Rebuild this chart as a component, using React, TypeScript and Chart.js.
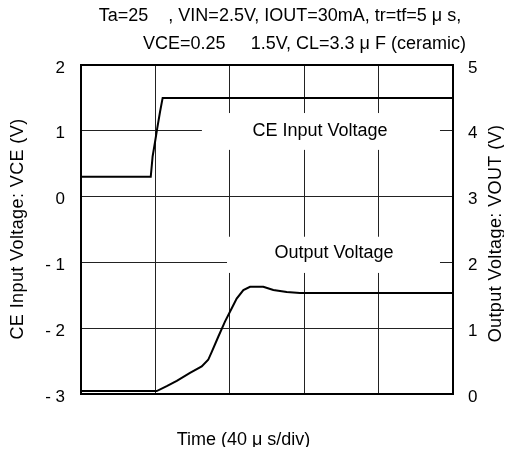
import React, { useEffect, useRef } from "react";
import { Chart, registerables } from "chart.js";

Chart.register(...registerables);

// Time in microseconds (40 µs per division, 5 divisions)
const ceTime = [0, 37.5, 38.5, 39.8, 41.0, 42.5, 43.9, 200];
const ceVolt = [0.3, 0.3, 0.61, 0.83, 1.04, 1.29, 1.5, 1.5];

const outTime = [0, 40.7, 46.1, 51.5, 58.6, 64.9, 68.4, 70.3, 73.8, 77.4, 80.1, 83.7, 87.3, 90.9, 98.0, 103.4, 110.6, 117.7, 200];
const outVolt = [0.045, 0.045, 0.12, 0.2, 0.32, 0.42, 0.52, 0.64, 0.87, 1.1, 1.25, 1.45, 1.58, 1.63, 1.63, 1.58, 1.55, 1.535, 1.535];

const titleLines = [
  "Ta=25    , VIN=2.5V, IOUT=30mA, tr=tf=5 \u03bc s,",
  "VCE=0.25     1.5V, CL=3.3 \u03bc F (ceramic)",
];
const leftTitle = "CE Input Voltage: VCE (V)";
const rightTitle = "Output Voltage: VOUT (V)";
const xTitle = "Time (40 \u03bc s/div)";
const ceLabel = "CE Input Voltage";
const outLabel = "Output Voltage";

const FONT = "'Liberation Sans', Arial, sans-serif";

const decorPlugin = {
  id: "decor",
  beforeDatasetsDraw(chart: any) {
    const { ctx, scales } = chart;
    const x = scales.x, y = scales.y;
    ctx.save();
    ctx.fillStyle = "#fff";
    const boxes = [
      [65, 193, 1.27, 0.71],
      [78.5, 193, -0.61, -1.16],
    ];
    for (const [x0, x1, y0, y1] of boxes) {
      const px0 = x.getPixelForValue(x0), px1 = x.getPixelForValue(x1);
      const py0 = y.getPixelForValue(y0), py1 = y.getPixelForValue(y1);
      ctx.fillRect(px0, py0, px1 - px0, py1 - py0);
    }
    ctx.fillStyle = "#000";
    ctx.font = `18px ${FONT}`;
    ctx.textAlign = "center";
    ctx.textBaseline = "middle";
    ctx.fillText(ceLabel, x.getPixelForValue(128.5), y.getPixelForValue(1.0));
    ctx.fillText(outLabel, x.getPixelForValue(136), y.getPixelForValue(-0.86));
    ctx.restore();
  },
  afterDatasetsDraw(chart: any) {
    const { ctx, chartArea } = chart;
    ctx.save();
    ctx.strokeStyle = "#000";
    ctx.lineWidth = 2;
    ctx.strokeRect(chartArea.left, chartArea.top, chartArea.right - chartArea.left, chartArea.bottom - chartArea.top);
    ctx.restore();
  },
  afterDraw(chart: any) {
    const { ctx } = chart;
    ctx.save();
    ctx.fillStyle = "#000";
    ctx.font = `18px ${FONT}`;
    ctx.textAlign = "center";
    ctx.textBaseline = "alphabetic";
    ctx.fillText(titleLines[0], 272, 13);
    ctx.fillText(titleLines[1], 296.5, 41);
    ctx.fillText(xTitle, 235.5, 437);
    ctx.textBaseline = "middle";
    try { (ctx as any).letterSpacing = "0.4px"; } catch (e) {}
    ctx.save();
    ctx.translate(10.5, 221);
    ctx.rotate(-Math.PI / 2);
    ctx.fillText(leftTitle, 0, 0);
    ctx.restore();
    ctx.save();
    ctx.translate(488.5, 225.5);
    ctx.rotate(-Math.PI / 2);
    ctx.fillText(rightTitle, 0, 0);
    ctx.restore();
    try { (ctx as any).letterSpacing = "0px"; } catch (e) {}
    ctx.restore();
  },
};

export default function App() {
  const ref = useRef<HTMLCanvasElement | null>(null);
  useEffect(() => {
    if (!ref.current) return;
    const chart = new Chart(ref.current, {
      type: "line",
      data: {
        datasets: [
          {
            data: ceTime.map((t, i) => ({ x: t, y: ceVolt[i] })),
            yAxisID: "y",
            borderColor: "#000",
            borderWidth: 2,
            pointRadius: 0,
            tension: 0,
          },
          {
            data: outTime.map((t, i) => ({ x: t, y: outVolt[i] })),
            yAxisID: "y2",
            borderColor: "#000",
            borderWidth: 2,
            pointRadius: 0,
            tension: 0,
          },
        ],
      },
      options: {
        animation: false,
        responsive: true,
        maintainAspectRatio: false,
        layout: { padding: { top: 57, left: 0, right: 0, bottom: 0 } },
        plugins: { legend: { display: false }, tooltip: { enabled: false }, title: { display: false } },
        scales: {
          x: {
            type: "linear",
            min: 0,
            max: 200,
            ticks: { display: false, stepSize: 40 },
            grid: { color: "#222", lineWidth: 1, drawTicks: false },
            border: { display: false },
            afterFit: (s: any) => { s.height = 61; },
          },
          y: {
            position: "left",
            min: -3,
            max: 2,
            ticks: {
              stepSize: 1,
              color: "#000",
              font: { family: FONT, size: 17 },
              padding: 16,
              labelOffset: 3,
              callback: (v: any) => (Number(v) < 0 ? `- ${Math.abs(Number(v))}` : `${v}`),
            },
            grid: { color: "#222", lineWidth: 1, drawTicks: false },
            border: { display: false },
            afterFit: (s: any) => { s.width = 73; },
          },
          y2: {
            position: "right",
            min: 0,
            max: 5,
            ticks: {
              stepSize: 1,
              color: "#000",
              font: { family: FONT, size: 17 },
              padding: 15,
              labelOffset: 3,
            },
            grid: { display: false, drawTicks: false },
            border: { display: false },
            afterFit: (s: any) => { s.width = 51; },
          },
        },
      },
      plugins: [decorPlugin],
    });
    return () => chart.destroy();
  }, []);
  return (
    <div style={{ width: "496px", height: "447px", marginBottom: "-8px", position: "relative" }}>
      <canvas ref={ref} />
    </div>
  );
}
